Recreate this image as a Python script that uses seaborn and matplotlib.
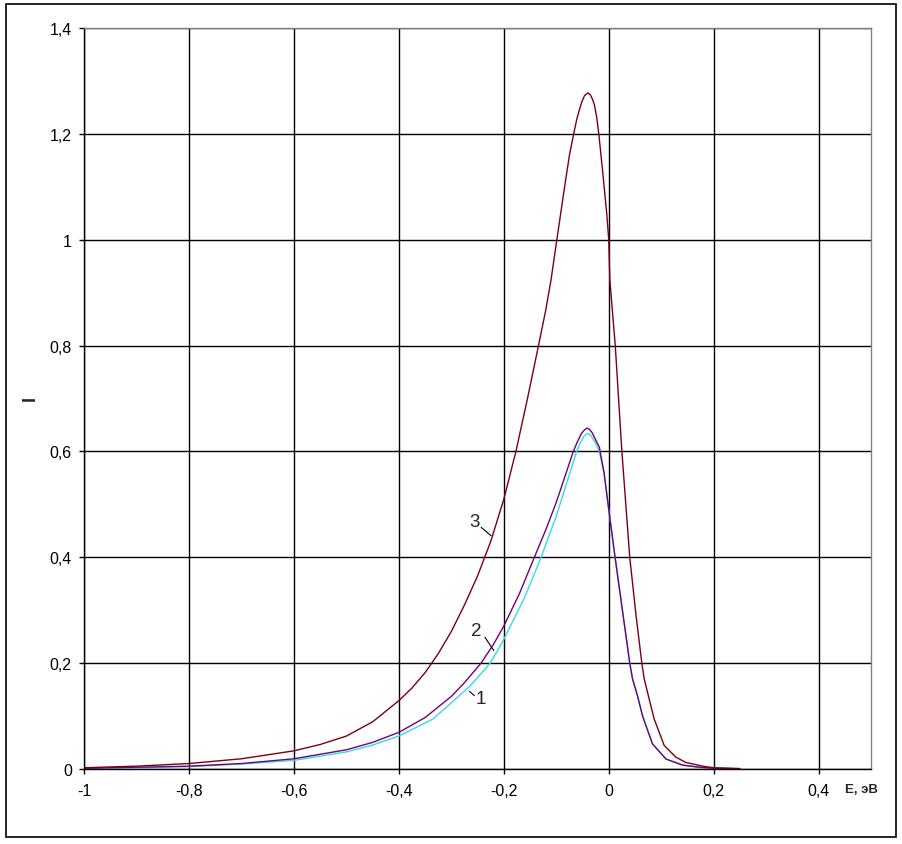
import numpy as np
import pandas as pd
import matplotlib
matplotlib.use("Agg")
import matplotlib.pyplot as plt
import seaborn as sns

# ---- data ----
e3 = [-1.0, -0.9, -0.8, -0.7, -0.6, -0.55, -0.5, -0.45, -0.4, -0.375, -0.35, -0.325,
      -0.3, -0.275, -0.25, -0.225, -0.2, -0.177, -0.155, -0.134, -0.12, -0.11, -0.1005,
      -0.085, -0.075, -0.067, -0.061, -0.056, -0.051, -0.046, -0.040, -0.035, -0.031,
      -0.0276, -0.023, -0.019, -0.012, -0.004, 0.0, 0.002, 0.0124, 0.025, 0.040, 0.052,
      0.063, 0.0676, 0.0803, 0.0866, 0.1057, 0.128, 0.147, 0.179, 0.2, 0.25]
i3 = [0.002, 0.005, 0.010, 0.019, 0.034, 0.046, 0.062, 0.089, 0.129, 0.153, 0.182, 0.218,
      0.260, 0.310, 0.365, 0.430, 0.510, 0.600, 0.700, 0.800, 0.868, 0.925, 0.990,
      1.095, 1.160, 1.200, 1.228, 1.246, 1.262, 1.273, 1.278, 1.274, 1.266,
      1.256, 1.232, 1.200, 1.133, 1.051, 1.000, 0.925, 0.800, 0.600, 0.400, 0.290,
      0.200, 0.170, 0.119, 0.094, 0.044, 0.022, 0.012, 0.005, 0.002, 0.0005]

e2 = [-1.0, -0.9, -0.8, -0.7, -0.6, -0.5, -0.45, -0.4, -0.35, -0.3, -0.275, -0.2433,
      -0.22, -0.2, -0.17, -0.1418, -0.12, -0.1, -0.0676, -0.06, -0.052, -0.046, -0.0415,
      -0.037, -0.032, -0.026, -0.018, -0.009, 0.0, 0.012, 0.026, 0.040, 0.0453, 0.0548,
      0.0644, 0.0834, 0.109, 0.1405, 0.172, 0.2, 0.25]
i2 = [0.001, 0.003, 0.005, 0.010, 0.019, 0.036, 0.050, 0.069, 0.097, 0.137, 0.163, 0.200,
      0.235, 0.270, 0.332, 0.400, 0.452, 0.504, 0.600, 0.618, 0.634, 0.641, 0.644,
      0.642, 0.636, 0.624, 0.608, 0.560, 0.490, 0.400, 0.300, 0.200, 0.170, 0.138,
      0.100, 0.047, 0.0185, 0.007, 0.003, 0.001, 0.0]

e1 = [-1.0, -0.9, -0.8, -0.7, -0.6, -0.5, -0.45, -0.4, -0.3355, -0.3, -0.263, -0.226,
      -0.213, -0.2, -0.16, -0.129, -0.1, -0.0613, -0.055, -0.048, -0.0415, -0.036, -0.03,
      -0.024, -0.018, -0.009, 0.0, 0.012, 0.026, 0.040, 0.0453, 0.0548, 0.0644, 0.0834,
      0.109, 0.1405, 0.172, 0.2, 0.25]
i1 = [0.001, 0.002, 0.004, 0.009, 0.016, 0.032, 0.045, 0.062, 0.094, 0.125, 0.158, 0.200,
      0.222, 0.245, 0.325, 0.400, 0.478, 0.600, 0.615, 0.628, 0.634, 0.632, 0.624,
      0.613, 0.600, 0.558, 0.490, 0.400, 0.300, 0.200, 0.170, 0.138, 0.100, 0.047,
      0.0185, 0.007, 0.003, 0.001, 0.0]

x_ticks = [-1.0, -0.8, -0.6, -0.4, -0.2, 0.0, 0.2, 0.4]
x_labels = ["-1", "-0,8", "-0,6", "-0,4", "-0,2", "0", "0,2", "0,4"]
y_ticks = [0.0, 0.2, 0.4, 0.6, 0.8, 1.0, 1.2, 1.4]
y_labels = ["0", "0,2", "0,4", "0,6", "0,8", "1", "1,2", "1,4"]

curve_labels = ["1", "2", "3"]
label_pos = [(-0.2443, 0.1335), (-0.2519, 0.2611), (-0.2555, 0.4684)]
leader_start = [(-0.2561, 0.1382), (-0.2361, 0.2486), (-0.2433, 0.4565)]
leader_end = [(-0.2656, 0.1465), (-0.2193, 0.2236), (-0.2243, 0.4406)]

# ---- plot ----
sns.set_theme(style="white")
plt.rcParams['font.family'] = ['Liberation Sans', 'DejaVu Sans']

fig = plt.figure(figsize=(9.02, 8.45), dpi=100)
ax = fig.add_axes([84.3/902, 1-769.8/845, (871-84.3)/902, (769.8-29.3)/845])

df1 = pd.DataFrame({"E": e1, "I": i1})
df2 = pd.DataFrame({"E": e2, "I": i2})
df3 = pd.DataFrame({"E": e3, "I": i3})
sns.lineplot(data=df1, x="E", y="I", ax=ax, color="#33DDDD", lw=1.0, sort=False, estimator=None)
sns.lineplot(data=df2, x="E", y="I", ax=ax, color="#700080", lw=1.0, sort=False, estimator=None)
sns.lineplot(data=df3, x="E", y="I", ax=ax, color="#7A0010", lw=1.0, sort=False, estimator=None)

ax.set_xlim(-1.0, 0.5)
ax.set_ylim(0, 1.4)
ax.set_xticks(x_ticks)
ax.set_xticklabels(x_labels)
ax.set_yticks(y_ticks)
ax.set_yticklabels(y_labels)
ax.grid(True, color="black", lw=1.0)
ax.set_axisbelow(True)
ax.tick_params(axis="both", which="both", direction="out", length=3.5, width=1, color="black",
               labelsize=11.5, labelcolor="black", left=True, bottom=True)
ax.tick_params(axis="x", pad=6.5)
ax.tick_params(axis="y", pad=5.5)
for side in ["left", "bottom"]:
    ax.spines[side].set_color("black")
    ax.spines[side].set_linewidth(1.0)
for side in ["top", "right"]:
    ax.spines[side].set_color("#808080")
    ax.spines[side].set_linewidth(1.0)
ax.set_xlabel("")
ax.set_ylabel("")

for txt, (tx, ty), (sx, sy), (ex, ey) in zip(curve_labels, label_pos, leader_start, leader_end):
    ax.text(tx, ty, txt, fontsize=13.5, ha="center", va="center")
    ax.annotate("", xy=(ex, ey), xytext=(sx, sy),
                arrowprops=dict(arrowstyle="-", color="black", lw=0.8, shrinkA=0, shrinkB=0))

fig.text(861/902, 1-790/845, "E, эВ", fontsize=9.5, fontweight="bold", ha="center", va="center")
fig.text(30/902, 1-399/845, "I", fontsize=13, fontweight="bold", rotation=90, ha="center", va="center")

fig.patches.append(plt.Rectangle((5.5/902, 1-838/845), (896-5.5)/902, (838-5)/845,
                                 transform=fig.transFigure, fill=False, edgecolor="black", lw=1.2))

fig.savefig("out.png", dpi=100, facecolor="white")
